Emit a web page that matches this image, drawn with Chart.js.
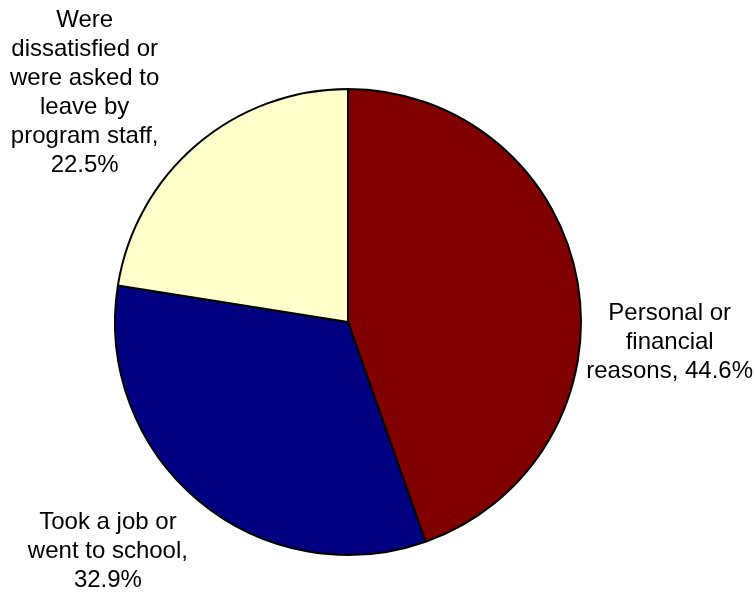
<!DOCTYPE html>
<html>
<head>
<meta charset="utf-8">
<script src="https://cdn.jsdelivr.net/npm/chart.js@4"></script>
<style>
  html, body { margin: 0; padding: 0; background: #fff; }
  #wrap { width: 755px; height: 596px; position: relative; }
</style>
</head>
<body>
<div id="wrap"><canvas id="pie"></canvas></div>
<script>
// reasons for leaving, share of respondents (%)
const reasons = [
  ['Personal or', 'financial', 'reasons'],
  ['Took a job or', 'went to school'],
  ['Were', 'dissatisfied or', 'were asked to', 'leave by', 'program staff']
];
const shares = [44.6, 32.9, 22.5];
const sliceColors = ['#800000', '#000080', '#ffffcc'];

// where each label block sits relative to the rim point at the slice's middle angle
const labelShift = [[92, 60], [-91, 50], [-112, -52]];

const outsideLabels = {
  id: 'outsideLabels',
  afterDraw(chart) {
    const ctx = chart.ctx;
    const arcs = chart.getDatasetMeta(0).data;
    ctx.save();
    ctx.font = '24px "Liberation Sans", Arial, sans-serif';
    ctx.fillStyle = '#000';
    ctx.textAlign = 'center';
    ctx.textBaseline = 'middle';
    const lineH = 29;
    arcs.forEach((arc, i) => {
      const p = arc.getProps(['x', 'y', 'startAngle', 'endAngle', 'outerRadius'], true);
      const mid = (p.startAngle + p.endAngle) / 2;
      const ax = p.x + Math.cos(mid) * p.outerRadius;
      const ay = p.y + Math.sin(mid) * p.outerRadius;
      const lines = reasons[i].slice();
      // value goes on the last line, or gets its own line if that one is already long
      const last = lines[lines.length - 1] + ',';
      const val = shares[i].toFixed(1) + '%';
      if (i === 0) {
        lines[lines.length - 1] = last + ' ' + val;
      } else {
        lines[lines.length - 1] = last;
        lines.push(val);
      }
      const cx = ax + labelShift[i][0];
      const cy = ay + labelShift[i][1];
      const top = cy - (lines.length - 1) * lineH / 2;
      lines.forEach((t, k) => ctx.fillText(t, cx, top + k * lineH));
    });
    ctx.restore();
  }
};

new Chart(document.getElementById('pie'), {
  type: 'pie',
  data: {
    labels: reasons.map(r => r.join(' ')),
    datasets: [{
      data: shares,
      backgroundColor: sliceColors,
      borderColor: '#000',
      borderWidth: 2,
      hoverBorderWidth: 2
    }]
  },
  options: {
    responsive: true,
    maintainAspectRatio: false,
    animation: false,
    layout: { padding: { top: 88, bottom: 40, left: 114, right: 173 } },
    plugins: {
      legend: { display: false },
      tooltip: { enabled: false }
    }
  },
  plugins: [outsideLabels]
});
</script>
</body>
</html>
